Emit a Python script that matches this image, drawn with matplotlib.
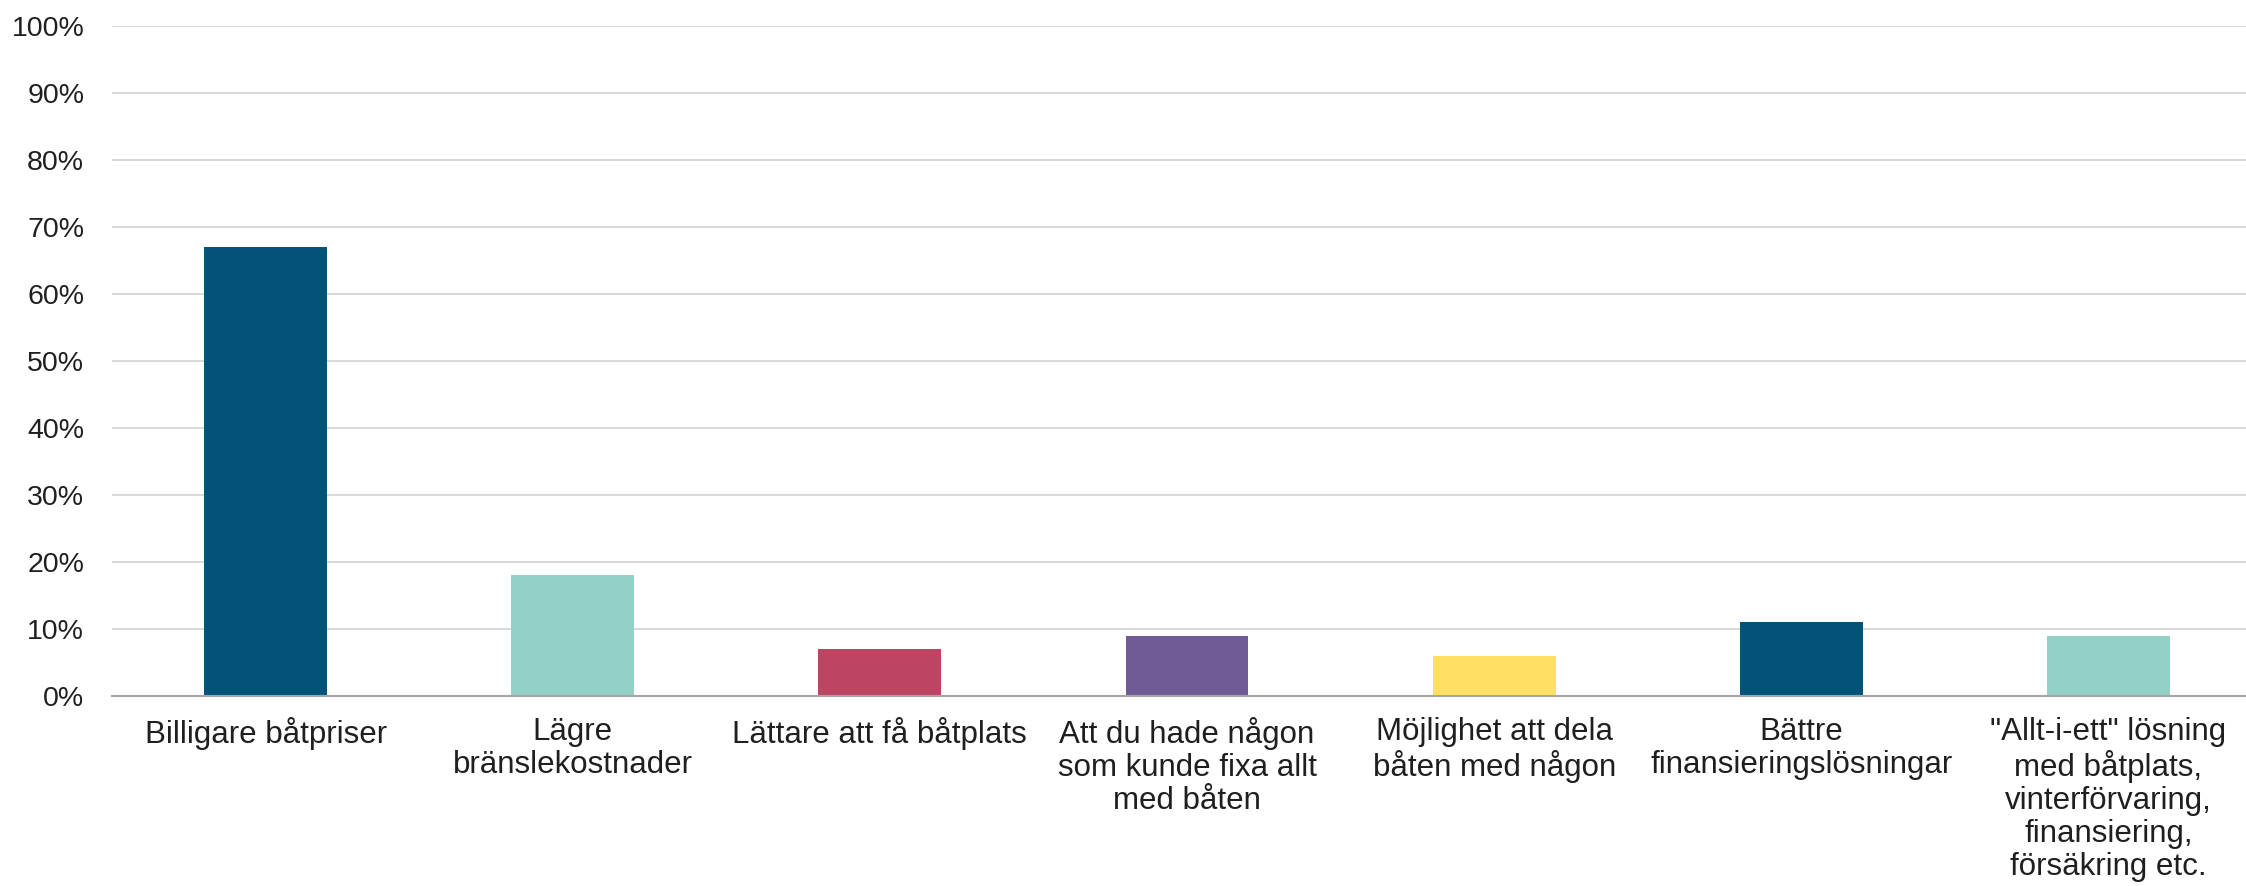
import matplotlib.pyplot as plt
from matplotlib import font_manager
from matplotlib.ticker import FuncFormatter

# Data
categories = [
    "Billigare båtpriser",
    "Lägre\nbränslekostnader",
    "Lättare att få båtplats",
    "Att du hade någon\nsom kunde fixa allt\nmed båten",
    "Möjlighet att dela\nbåten med någon",
    "Bättre\nfinansieringslösningar",
    "\"Allt-i-ett\" lösning\nmed båtplats,\nvinterförvaring,\nfinansiering,\nförsäkring etc.",
]
values = [0.67, 0.18, 0.07, 0.09, 0.06, 0.11, 0.09]
bar_colors = ["#03527A", "#92D0C8", "#BC4563", "#705B97", "#FFE062", "#03527A", "#92D0C8"]
yticks = [i / 10 for i in range(11)]

installed = {f.name for f in font_manager.fontManager.ttflist}
label_font = "Liberation Sans Narrow" if "Liberation Sans Narrow" in installed else "Liberation Sans"
text_color = "#1F1F1F"

plt.rcParams["font.family"] = ["Liberation Sans", "DejaVu Sans"]

fig = plt.figure(figsize=(22.46, 8.86), dpi=100)
ax = fig.add_axes([112 / 2246, 1 - 696 / 886, 2150 / 2246, (696 - 26) / 886])

x = range(len(categories))
ax.bar(x, values, width=0.40, color=bar_colors, zorder=3)

ax.set_ylim(0, 1)
ax.set_xlim(-0.5, len(categories) - 0.5)
ax.set_yticks(yticks)
ax.yaxis.set_major_formatter(FuncFormatter(lambda v, _: f"{v * 100:.0f}%"))
ax.grid(axis="y", color="#D6D6D6", linewidth=1.3, zorder=0)
ax.tick_params(axis="y", length=0, pad=20, labelsize=20.5, labelcolor=text_color)
ax.tick_params(axis="x", length=0, pad=15)

ax.set_xticks(list(x))
ax.set_xticklabels(categories, fontsize=22.5, color=text_color,
                   family=[label_font, "DejaVu Sans"], linespacing=1.13)

for side in ["top", "right", "left"]:
    ax.spines[side].set_visible(False)
ax.spines["bottom"].set_color("#A6A6A6")
ax.spines["bottom"].set_linewidth(1.5)
ax.spines["bottom"].set_zorder(4)

fig.savefig("out.png", dpi=100)
